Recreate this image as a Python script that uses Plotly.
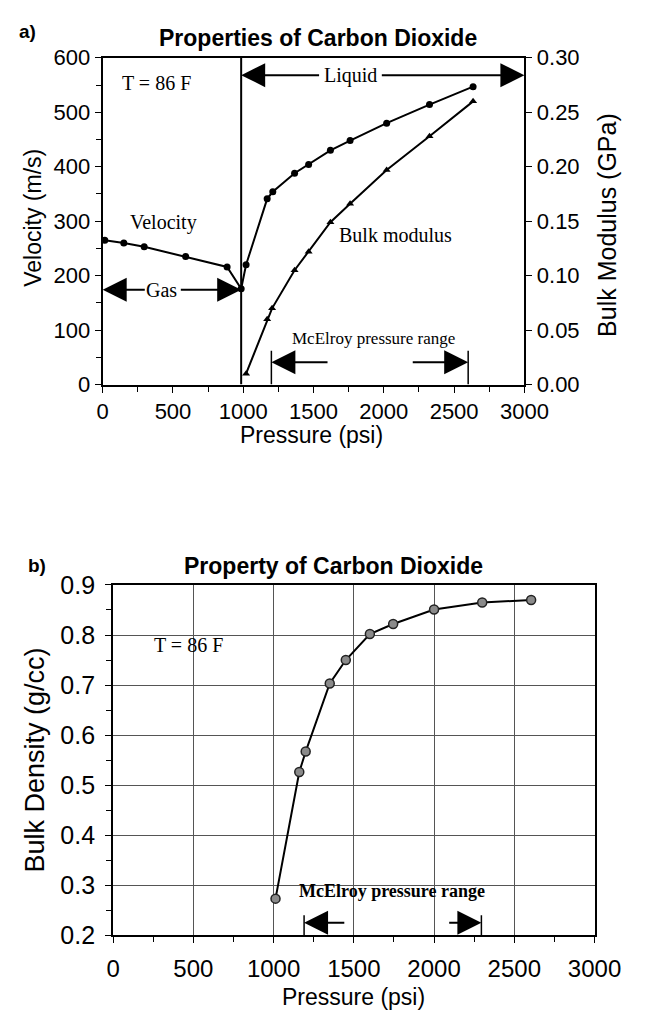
import plotly.graph_objects as go

# ---------------- data: panel a ----------------
vel_psi = [15, 150, 295, 590, 885, 985, 1020, 1170, 1210, 1365, 1465, 1620, 1760, 2020, 2325, 2635]
vel_ms = [265, 260, 253, 235, 216, 176, 220, 341, 354, 388, 404, 430, 448, 480, 514, 547]
bulk_psi = [1020, 1170, 1205, 1365, 1465, 1620, 1760, 2020, 2325, 2635]
bulk_gpa = [0.010, 0.060, 0.070, 0.105, 0.122, 0.149, 0.166, 0.197, 0.228, 0.260]
phase_psi = 985
mcelroy_a = [1200, 2600]

# ---------------- data: panel b ----------------
dens_psi = [1012, 1160, 1200, 1350, 1450, 1600, 1745, 2000, 2300, 2605]
dens_gcc = [0.273, 0.526, 0.567, 0.703, 0.750, 0.802, 0.822, 0.851, 0.865, 0.870]
mcelroy_b = [1190, 2295]

x_ticks = [0, 500, 1000, 1500, 2000, 2500, 3000]

W, H = 649, 1026
SANS = "Liberation Sans, Arial, sans-serif"
SERIF = "Liberation Serif, Times New Roman, serif"

def px(x):
    return x / W

def py(y):
    return 1 - y / H

fig = go.Figure()

fig.add_trace(go.Scatter(x=vel_psi, y=vel_ms, mode="lines+markers",
                         line=dict(color="black", width=2),
                         marker=dict(symbol="circle", size=7, color="black"),
                         xaxis="x", yaxis="y", showlegend=False))
fig.add_trace(go.Scatter(x=bulk_psi, y=bulk_gpa, mode="lines+markers",
                         line=dict(color="black", width=2),
                         marker=dict(symbol="triangle-up", size=7, color="black"),
                         xaxis="x", yaxis="y2", showlegend=False))
fig.add_trace(go.Scatter(x=dens_psi, y=dens_gcc, mode="lines+markers",
                         line=dict(color="black", width=2),
                         marker=dict(symbol="circle", size=9, color="#8a8a8a",
                                     line=dict(color="#222", width=1.5)),
                         xaxis="x2", yaxis="y3", showlegend=False))

axis_common = dict(showline=True, linecolor="black", linewidth=2, zeroline=False,
                   ticks="outside", tickcolor="black", ticklen=6, tickwidth=1)

fig.update_layout(
    width=W, height=H, margin=dict(l=0, r=0, t=0, b=0),
    paper_bgcolor="white", plot_bgcolor="white",
    font=dict(family=SANS, color="black"),
    xaxis=dict(domain=[px(101), px(546)], range=[0, 3000], anchor="y",
               tickvals=x_ticks, tickfont=dict(size=22), showgrid=False, mirror=True,
               minor=dict(dtick=250, ticks="outside", ticklen=5, tickcolor="black"),
               **axis_common),
    yaxis=dict(domain=[py(381), py(45)], range=[0, 600], anchor="x", dtick=100,
               tickfont=dict(size=22), showgrid=False,
               minor=dict(dtick=50, ticks="outside", ticklen=5, tickcolor="black"),
               **axis_common),
    yaxis2=dict(range=[0, 0.30], overlaying="y", side="right", anchor="x", dtick=0.05,
                tickformat=".2f", tickfont=dict(size=22), showgrid=False, **axis_common),
    xaxis2=dict(domain=[px(112), px(620)], range=[0, 3000], anchor="y3",
                tickvals=x_ticks, tickfont=dict(size=24), showgrid=True,
                gridcolor="#555", gridwidth=1, mirror=True, ticklabelstandoff=5,
                minor=dict(dtick=250, ticks="outside", ticklen=5, tickcolor="black"),
                **axis_common),
    yaxis3=dict(domain=[py(947), py(587)], range=[0.2, 0.9], anchor="x2", dtick=0.1,
                tickformat=".1f", tickfont=dict(size=25), showgrid=True,
                gridcolor="#555", gridwidth=1, mirror=True, ticklabelstandoff=5,
                minor=dict(dtick=0.05, ticks="outside", ticklen=5, tickcolor="black"),
                **axis_common),
)

shapes = []
# phase boundary
shapes.append(dict(type="line", xref="x", yref="y", x0=phase_psi, x1=phase_psi, y0=0, y1=600,
                   line=dict(color="black", width=2)))
for v in mcelroy_a:
    shapes.append(dict(type="line", xref="x", yref="y", x0=v, x1=v, y0=0, y1=62,
                       line=dict(color="black", width=1.5)))
for v in mcelroy_b:
    shapes.append(dict(type="line", xref="x2", yref="y3", x0=v, x1=v, y0=0.2, y1=0.24,
                       line=dict(color="black", width=1.5)))
fig.update_layout(shapes=shapes)

ann = []

def arrow(xr, yr, x, y, ax, ay):
    ann.append(dict(xref=xr, yref=yr, axref=xr, ayref=yr, x=x, y=y, ax=ax, ay=ay,
                    text="", showarrow=True, arrowhead=2, arrowsize=2.4, arrowwidth=2,
                    arrowcolor="black", standoff=0, startstandoff=0))

def text(xr, yr, x, y, t, size, family=SERIF, **kw):
    ann.append(dict(xref=xr, yref=yr, x=x, y=y, text=t, showarrow=False,
                    xanchor="center", yanchor="middle",
                    font=dict(family=family, size=size, color="black"), **kw))

# panel a texts
text("paper", "paper", px(328), py(25), "<b>Properties of Carbon Dioxide</b>", 23, SANS)
text("paper", "paper", px(22), py(18), "<b>a)</b>", 19, SANS)
text("paper", "paper", px(28), py(210), "Velocity (m/s)", 23, SANS, textangle=-90)
text("paper", "paper", px(633), py(217), "Bulk Modulus (GPa)", 25, SANS, textangle=-90)
text("paper", "paper", px(321), py(433), "Pressure (psi)", 23, SANS)
text("x", "y", 385, 554, "T = 86 F", 20)
text("x", "y", 1760, 568, "Liquid", 20)
text("x", "y", 420, 174, "Gas", 20)
text("x", "y", 432, 298, "Velocity", 20)
text("x", "y", 2080, 275, "Bulk modulus", 20)
text("x", "y", 1930, 84, "McElroy pressure range", 17)
arrow("x", "y", phase_psi, 568, 1550, 568)
arrow("x", "y", 3000, 568, 1975, 568)
arrow("x", "y", 0, 174, 310, 174)
arrow("x", "y", phase_psi, 174, 545, 174)
arrow("x", "y", mcelroy_a[0], 41, 1610, 41)
arrow("x", "y", mcelroy_a[1], 41, 2195, 41)

# panel b texts
text("paper", "paper", px(345), py(568), "<b>Property of Carbon Dioxide</b>", 23, SANS)
text("paper", "paper", px(32), py(567), "<b>b)</b>", 19, SANS)
text("paper", "paper", px(30), py(767), "Bulk Density (g/cc)", 27, SANS, textangle=-90)
text("paper", "paper", px(366), py(1011), "Pressure (psi)", 23, SANS)
text("x2", "y3", 470, 0.781, "T = 86 F", 20)
text("x2", "y3", 1740, 0.288, "<b>McElroy pressure range</b>", 18)
arrow("x2", "y3", mcelroy_b[0], 0.225, 1450, 0.225)
arrow("x2", "y3", mcelroy_b[1], 0.225, 2085, 0.225)

fig.update_layout(annotations=ann)

fig.write_html("out.html")
